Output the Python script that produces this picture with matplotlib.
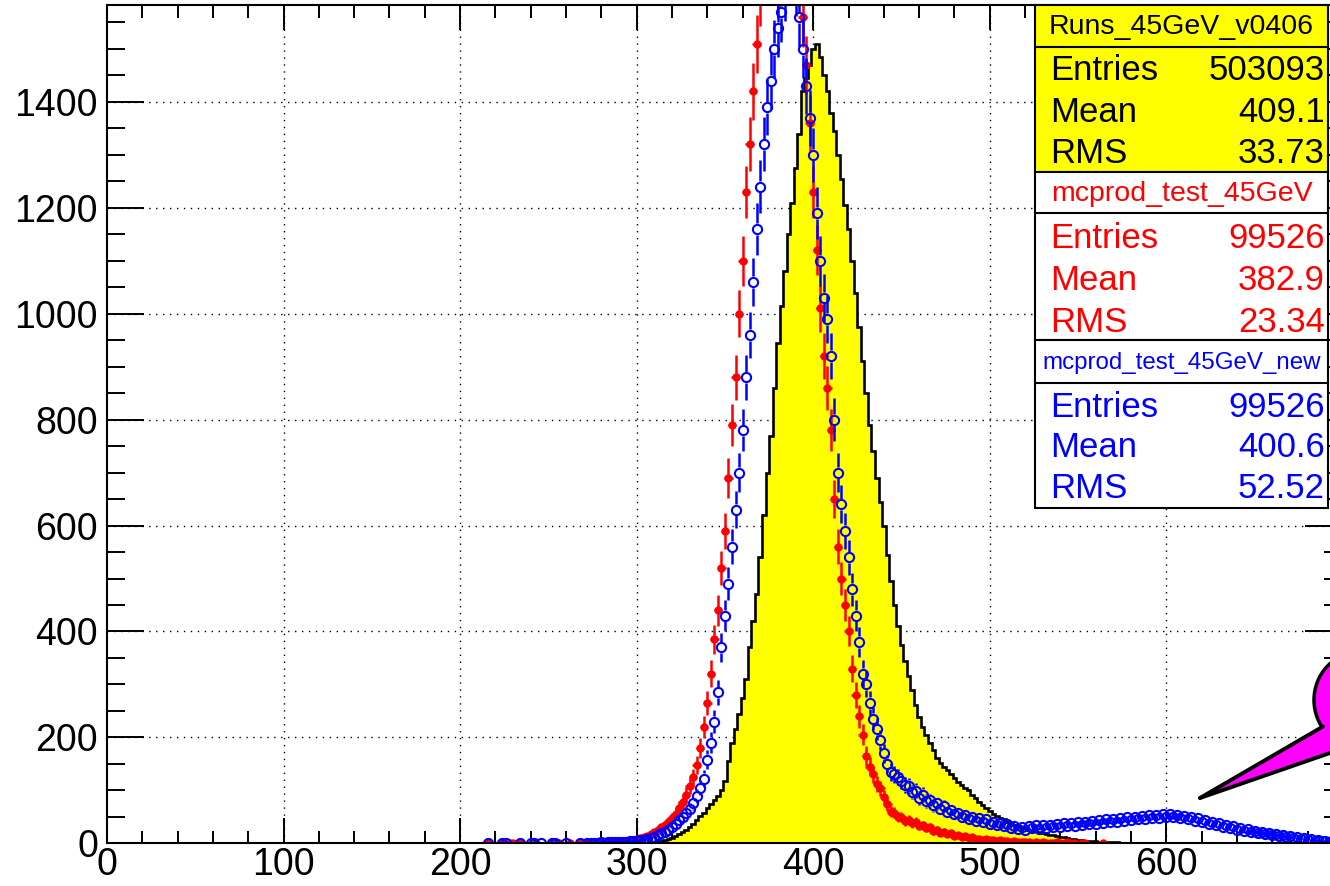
import numpy as np
import matplotlib
matplotlib.use("Agg")
import matplotlib.pyplot as plt
from matplotlib.patches import Rectangle, Ellipse, Polygon
from matplotlib.ticker import MultipleLocator

plt.rcParams['font.family'] = ['Liberation Sans', 'DejaVu Sans']

# ---------------- data ----------------
# Yellow filled histogram (Runs_45GeV_v0406), bin centres start at 300, width 2
yellow_first_center = 300
yellow_bin_width = 2
yellow_counts = [
    0, 1, 1, 1, 2, 3, 4, 5, 6, 8,                         # 300-318
    10, 13, 17, 21, 26, 31, 37, 44, 52, 58,               # 320-338
    66, 74, 82, 90, 100, 118, 155, 190, 215, 245,         # 340-358
    275, 310, 370, 420, 470, 540, 620, 700, 770, 860,     # 360-378
    945, 1015, 1080, 1150, 1210, 1275, 1340, 1420, 1445, 1470,  # 380-398
    1500, 1510, 1485, 1450, 1420, 1380, 1345, 1300, 1255, 1205,  # 400-418
    1160, 1100, 1040, 975, 910, 850, 790, 740, 690, 645,  # 420-438
    600, 545, 495, 450, 410, 375, 345, 315, 290, 262,     # 440-458
    238, 220, 205, 190, 176, 162, 152, 145, 138, 130,     # 460-478
    123, 116, 110, 105, 100, 92, 85, 78, 72, 66,          # 480-498
    61, 56, 52, 48, 45, 41, 38, 35, 32, 30,               # 500-518
    28, 26, 25, 23, 22, 20, 18, 16, 15, 13,               # 520-538
    12, 11, 10, 9, 8, 7, 6, 5, 5, 4,                      # 540-558
    4, 3, 3, 2, 2, 2, 2, 1, 1, 1,                         # 560-578
    1, 1, 1, 0, 0, 0, 0, 0, 0, 0,                         # 580-598
    0,                                                    # 600
]

# Marker series, bin centres start at 214, width 2
marker_first_center = 214
marker_bin_width = 2
red_counts = [
    0, 1, 0, 0, 0, 1, 0, 1, 1, 0,                  # 214-232
    1, 0, 0, 0, 1, 0, 0, 0, 0, 1,                  # 234-252
    0, 1, 0, 0, 1, 0, 0, 1, 0, 1,                  # 254-272
    1, 1, 2, 1, 2, 2, 3, 3, 4, 4,                  # 274-292
    5, 6, 7, 8, 10, 12, 14, 17, 21, 26,            # 294-312
    30, 34, 40, 48, 56, 66, 78, 92, 108, 125,      # 314-332
    148, 180, 220, 265, 320, 385, 440, 520, 590, 690,  # 334-352
    790, 880, 1000, 1100, 1230, 1320, 1420, 1510, 1600, 1700,  # 354-372
    1780, 1850, 1900, 1940, 1960, 1950, 1900, 1820, 1730, 1640,  # 374-392
    1560, 1470, 1360, 1230, 1120, 1010, 920, 860, 780, 650,  # 394-412
    560, 500, 450, 400, 330, 280, 240, 205, 165, 145,  # 414-432
    130, 112, 104, 88, 74, 60, 58, 50, 50, 42,     # 434-452
    44, 38, 40, 33, 34, 28, 30, 23, 26, 20,        # 454-472
    22, 17, 19, 14, 16, 12, 13, 10, 11, 8,         # 474-492
    9, 7, 8, 6, 7, 5, 6, 4, 5, 3,                  # 494-512
    4, 2, 3, 2, 3, 1, 2, 1, 2, 1,                  # 514-532
    1, 1, 2, 1, 1, 2, 1, 1, 0, 1,                  # 534-552
    1, 0, 0, 0, 0, 1, 0,                           # 554-566
]
blue_counts = [
    0, 1, 0, 0, 0, 1, 1, 0, 0, 0,                  # 214-232
    1, 0, 0, 1, 1, 0, 1, 0, 0, 1,                  # 234-252
    1, 0, 0, 1, 0, 0, 0, 1, 0, 1,                  # 254-272
    1, 1, 1, 2, 1, 2, 2, 2, 3, 3,                  # 274-292
    3, 4, 4, 5, 6, 7, 8, 10, 12, 15,               # 294-312
    19, 22, 26, 31, 37, 44, 50, 57, 64, 76,        # 314-332
    90, 105, 122, 158, 190, 230, 285, 370, 430, 490,  # 334-352
    560, 630, 700, 780, 880, 960, 1060, 1160, 1240, 1320,  # 354-372
    1390, 1440, 1500, 1540, 1570, 1610, 1640, 1650, 1620, 1560,  # 374-392
    1500, 1430, 1370, 1300, 1190, 1100, 1030, 990, 920, 800,  # 394-412
    700, 640, 590, 540, 480, 430, 380, 320, 300, 265,  # 414-432
    235, 215, 195, 170, 150, 135, 130, 125, 118, 110,  # 434-452
    108, 97, 99, 86, 92, 80, 81, 72, 76, 65,       # 454-472
    70, 60, 63, 55, 58, 50, 54, 46, 50, 43,        # 474-492
    47, 40, 45, 37, 41, 34, 38, 32, 36, 29,        # 494-512
    33, 27, 31, 26, 33, 28, 34, 27, 35, 29,        # 514-532
    35, 30, 37, 31, 38, 32, 39, 33, 40, 35,        # 534-552
    41, 36, 43, 37, 44, 38, 45, 40, 46, 41,        # 554-572
    48, 42, 49, 44, 50, 45, 52, 46, 53, 47,        # 574-592
    54, 48, 55, 50, 56, 49, 54, 47, 52, 45,        # 594-612
    50, 42, 47, 40, 44, 37, 41, 34, 38, 31,        # 614-632
    35, 29, 32, 26, 29, 24, 27, 21, 24, 19,        # 634-652
    22, 17, 20, 15, 18, 13, 16, 11, 14, 10,        # 654-672
    12, 8, 10, 7, 8, 5, 6, 4, 5, 3,                # 674-692
    4, 2, 3,                                       # 694-698
]

stat_titles = ["Runs_45GeV_v0406", "mcprod_test_45GeV", "mcprod_test_45GeV_new"]
stat_entries = ["503093", "99526", "99526"]
stat_means = ["409.1", "382.9", "400.6"]
stat_rms = ["33.73", "23.34", "52.52"]

x_range = (0, 699.5)
y_range = (0, 1583)

# ---------------- figure ----------------
W, H = 1330, 886
fig = plt.figure(figsize=(W / 100, H / 100), dpi=100)
ax_left, ax_bottom, ax_right, ax_top = 107, 843.3, 1342, 5
ax = fig.add_axes([ax_left / W, (H - ax_bottom) / H,
                   (ax_right - ax_left) / W, (ax_bottom - ax_top) / H])
ax.set_xlim(*x_range)
ax.set_ylim(*y_range)

# yellow histogram
yc = np.asarray(yellow_counts, float)
y_edges = yellow_first_center - yellow_bin_width / 2 + yellow_bin_width * np.arange(len(yc) + 1)
ax.stairs(yc, y_edges, baseline=0, fill=True, color='#ffff00', zorder=2)
ax.stairs(yc, y_edges, baseline=0, fill=False, color='black', linewidth=1.9, zorder=2.2)

# grid (below the data)
for v in np.arange(100, 700, 100):
    ax.axvline(v, color='black', linestyle=(0, (1, 4)), linewidth=1.0, zorder=0.5)
for v in np.arange(200, 1583, 200):
    ax.axhline(v, color='black', linestyle=(0, (1, 4)), linewidth=1.0, zorder=0.5)

# marker series
ppu = ax.bbox.height / (y_range[1] - y_range[0])  # pixels per y unit


def draw_series(counts, color, filled, ms, mew, z):
    c = np.asarray(counts, float)
    x = marker_first_center + marker_bin_width * np.arange(len(c))
    m = c > 0
    x, c = x[m], c[m]
    err = np.sqrt(2.0 * c)
    if filled:
        ax.vlines(x, c - err, c + err, color=color, linewidth=1.8, zorder=z)
        ax.hlines(c, x - marker_bin_width * 1.2, x + marker_bin_width * 1.2,
                  color=color, linewidth=1.8, zorder=z)
        ax.plot(x, c, 'o', color=color, markersize=ms, markeredgewidth=0, zorder=z)
    else:
        gap = (ms + mew) / 2 * 100 / 72 / ppu
        s = err > gap
        ax.vlines(x[s], c[s] + gap, c[s] + err[s], color=color, linewidth=1.8, zorder=z)
        ax.vlines(x[s], c[s] - err[s], c[s] - gap, color=color, linewidth=1.8, zorder=z)
        ax.plot(x, c, 'o', markerfacecolor='none', markeredgecolor=color,
                markersize=ms, markeredgewidth=mew, zorder=z)


draw_series(red_counts, '#ff0000', True, 6.0, 0, 3)
draw_series(blue_counts, '#0000ff', False, 6.6, 1.5, 4)

# axes styling
ax.xaxis.set_major_locator(MultipleLocator(100))
ax.xaxis.set_minor_locator(MultipleLocator(20))
ax.yaxis.set_major_locator(MultipleLocator(200))
ax.yaxis.set_minor_locator(MultipleLocator(50))
ax.tick_params(axis='x', which='major', direction='in', length=18, width=1.4,
               top=True, labelsize=27, pad=3)
ax.tick_params(axis='x', which='minor', direction='in', length=9, width=1.4, top=True)
ax.tick_params(axis='y', which='major', direction='in', length=26.6, width=1.4,
               right=True, labelsize=27, pad=6.5)
ax.tick_params(axis='y', which='minor', direction='in', length=13.3, width=1.4, right=True)
for sp in ax.spines.values():
    sp.set_linewidth(1.5)
    sp.set_zorder(5)

# ---------------- overlay (stats boxes, callout) ----------------
ov = fig.add_axes([0, 0, 1, 1], zorder=10)
ov.set_xlim(0, W)
ov.set_ylim(H, 0)
ov.axis('off')
ov.patch.set_alpha(0)

box_l, box_r = 1035, 1328
boxes = [(5, 47, 172), (172, 213, 340), (340, 383, 508)]
box_fill = ['#ffff00', 'white', 'white']
text_col = ['black', '#ff0000', '#0000ff']
title_size = [20.5, 20.5, 17.4]
row_offsets = [(70, 112, 153), (238, 280, 322), (407, 447, 488)]
for i, (top, sep, bot) in enumerate(boxes):
    ov.add_patch(Rectangle((box_l, top), box_r - box_l, bot - top,
                           facecolor=box_fill[i], edgecolor='black', linewidth=1.5))
    ov.plot([box_l, box_r], [sep, sep], color='black', linewidth=1.5)
    ov.text((box_l + box_r) / 2, (top + sep) / 2 + 1, stat_titles[i], color=text_col[i],
            fontsize=title_size[i], ha='center', va='center')
    labels = ["Entries", "Mean", "RMS"]
    vals = [stat_entries[i], stat_means[i], stat_rms[i]]
    for lab, val, yy in zip(labels, vals, row_offsets[i]):
        ov.text(1050, yy, lab, color=text_col[i], fontsize=25, ha='left', va='center')
        ov.text(1325, yy, val, color=text_col[i], fontsize=25, ha='right', va='center')

# magenta callout
ov.add_patch(Ellipse((1360, 700), 92, 96, facecolor='#ff00ff', edgecolor='black',
                     linewidth=2.5, zorder=1))
tip = (1200, 798)
ov.add_patch(Polygon([tip, (1345, 713.6), (1360, 742.6)], closed=True,
                     facecolor='#ff00ff', edgecolor='none', zorder=2))
ov.plot([tip[0], 1323], [tip[1], 726.5], color='black', linewidth=2.8,
        solid_capstyle='round', zorder=3)
ov.plot([tip[0], 1360], [tip[1], 742.6], color='black', linewidth=2.8,
        solid_capstyle='round', zorder=3)

fig.savefig('out.png', dpi=100)
